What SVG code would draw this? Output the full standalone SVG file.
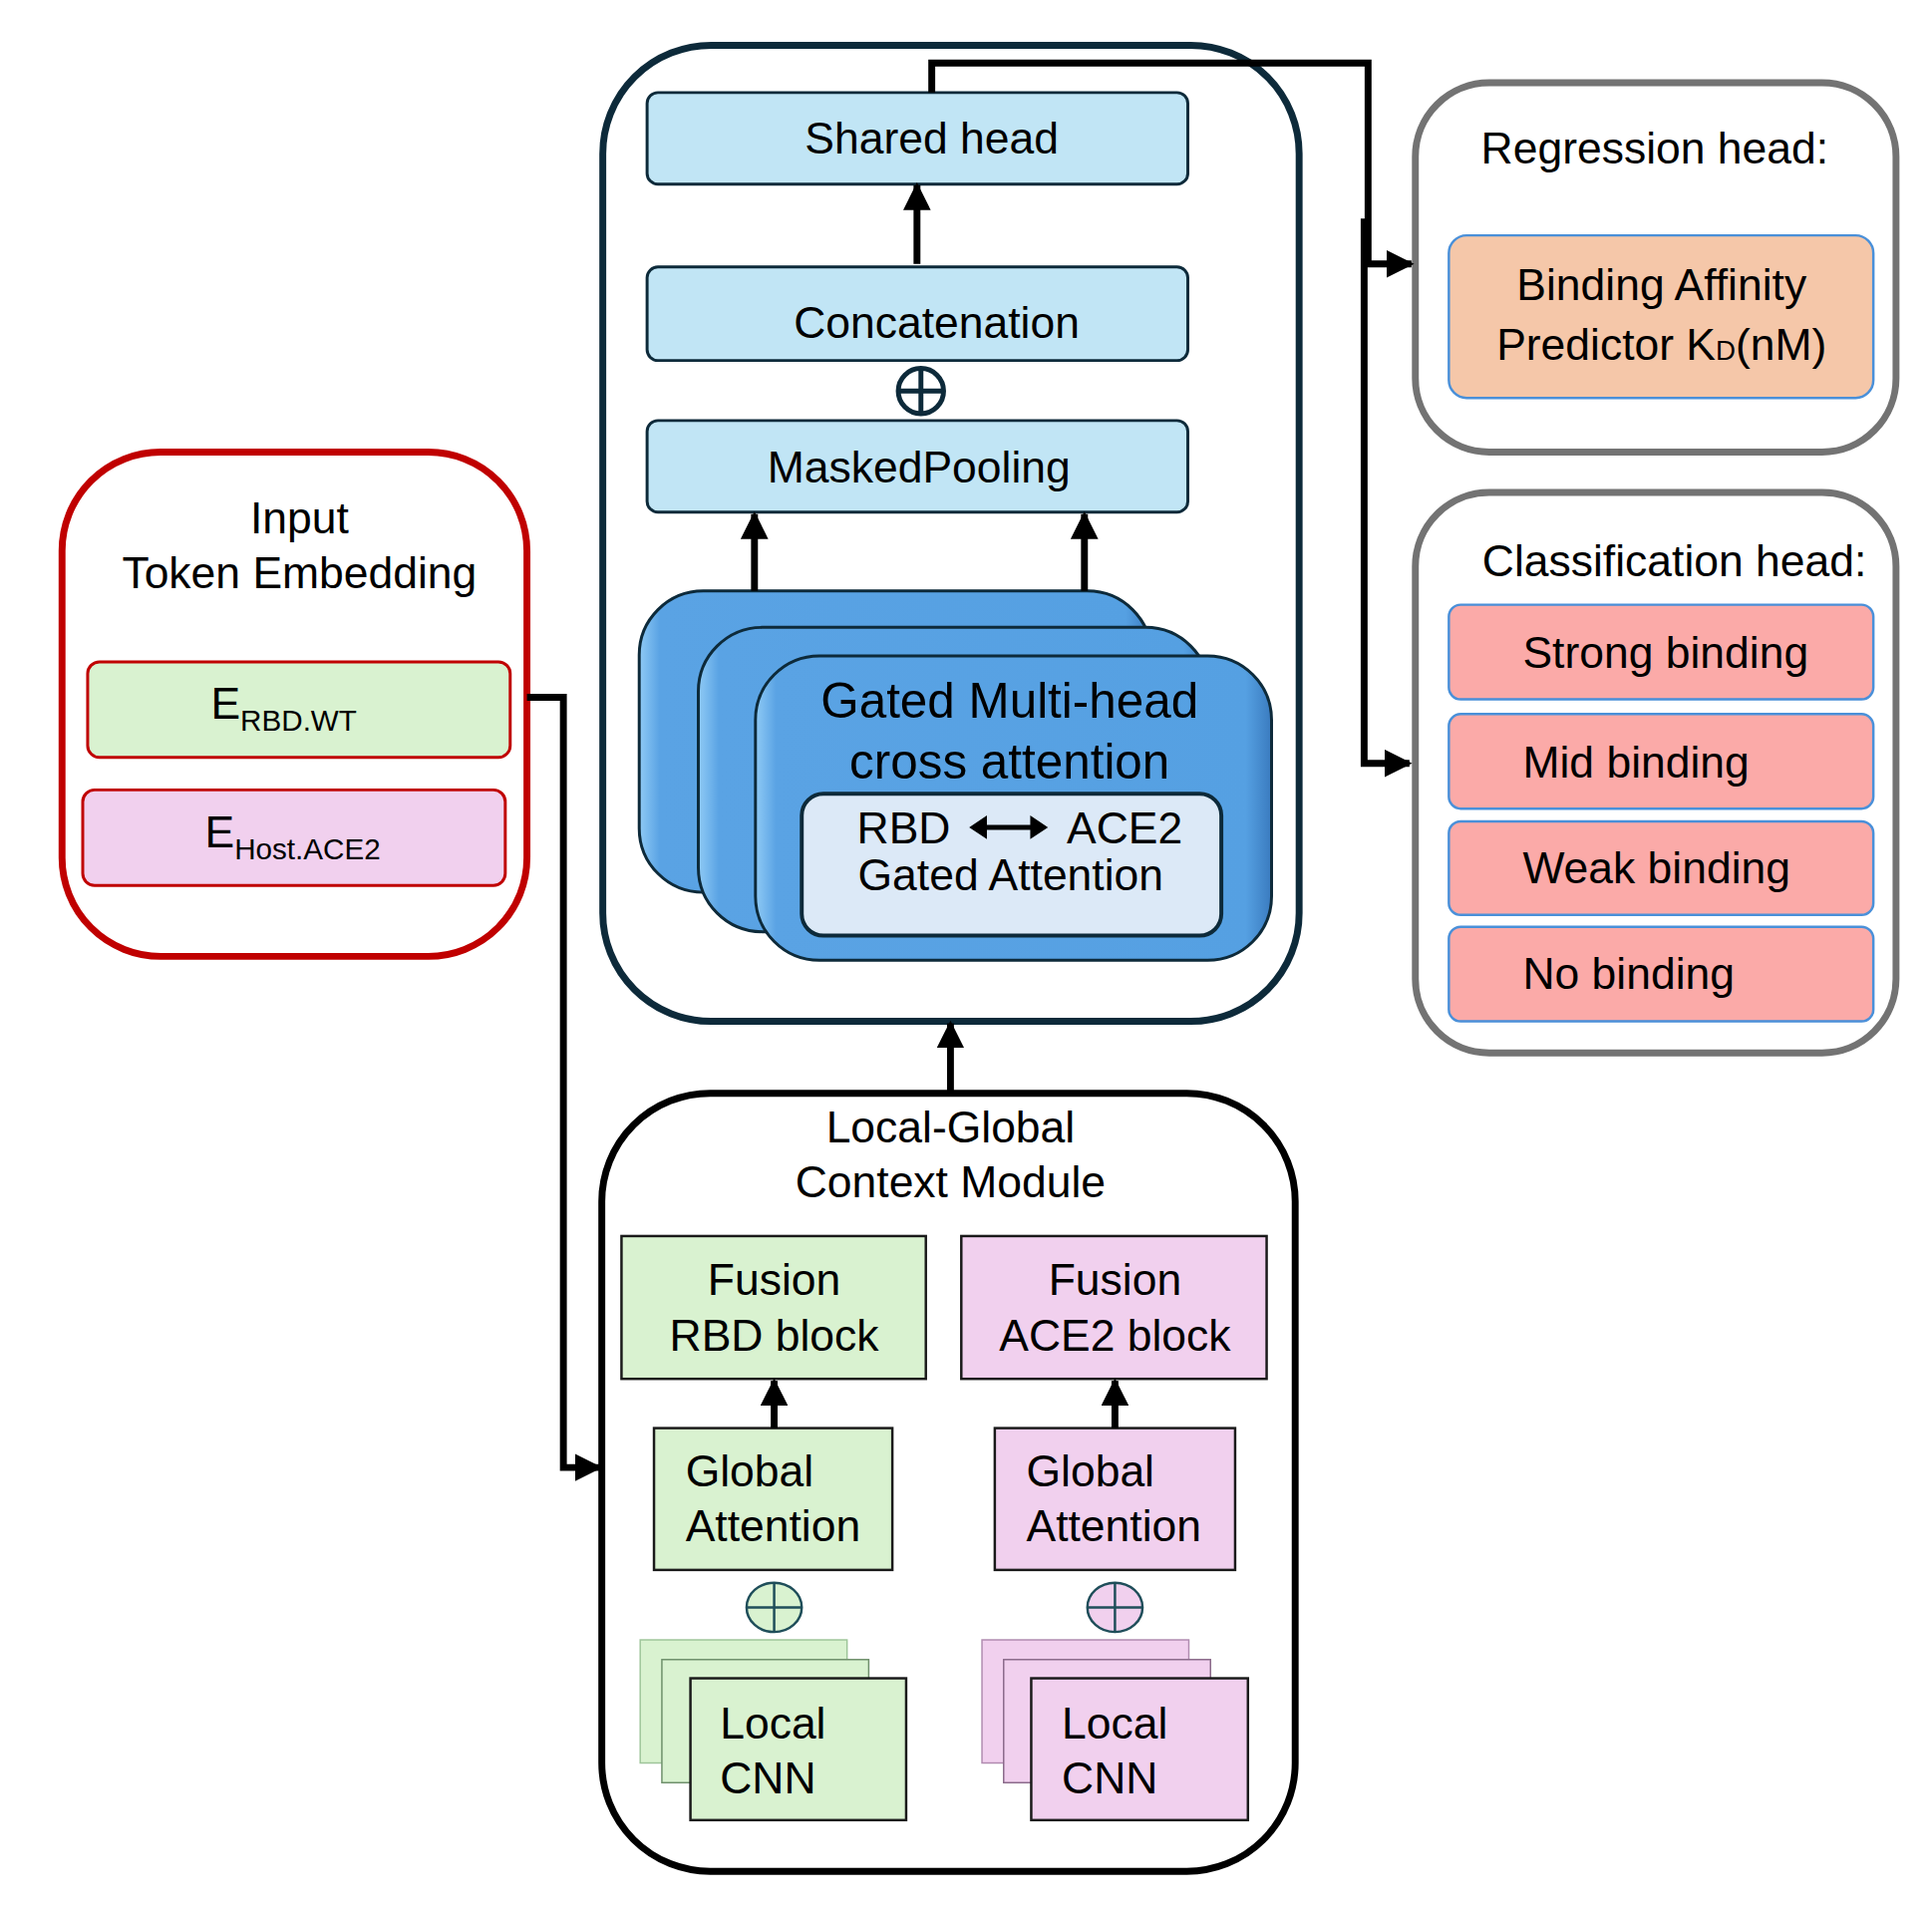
<svg xmlns="http://www.w3.org/2000/svg" width="1938" height="1916" viewBox="0 0 1938 1916">
<defs>
<style>
text{font-family:"Liberation Sans",Arial,sans-serif;fill:#000}
.t40{font-size:45px}
.t46{font-size:50px}
.c{text-anchor:middle}
.blue{fill:#c1e5f5;stroke:#0d2a3a;stroke-width:3}
.green{fill:#d9f2d0;stroke:#1a1a1a;stroke-width:2.5}
.pink{fill:#f1d0ee;stroke:#1a1a1a;stroke-width:2.5}
.card{fill:url(#cg);stroke:#0d2a3a;stroke-width:3}
.conn{fill:none;stroke:#000;stroke-width:7}
.cls{fill:#fbaaa8;stroke:#4a90d9;stroke-width:2.5}
</style>
<linearGradient id="cg" x1="0" y1="0" x2="1" y2="0">
<stop offset="0" stop-color="#8fcaf5"/><stop offset="0.04" stop-color="#5aa3e4"/><stop offset="0.95" stop-color="#55a0e2"/><stop offset="1" stop-color="#3a7bbf"/>
</linearGradient>
<marker id="ah" viewBox="0 0 10 10" refX="9" refY="5" markerWidth="4" markerHeight="4" orient="auto" markerUnits="strokeWidth">
<path d="M0,0 L10,5 L0,10 z" fill="#000"/>
</marker>
</defs>
<g transform="scale(0.988)">
<g id="input">
<rect x="63" y="459" width="472" height="512" rx="100" fill="#fff" stroke="#c00000" stroke-width="7"/>
<text class="t40 c" x="304" y="541">Input</text>
<text class="t40 c" x="304" y="597">Token Embedding</text>
<rect x="89" y="672" width="429" height="97" rx="12" fill="#d9f2d0" stroke="#c00000" stroke-width="3"/>
<text x="214" y="730" class="t40">E<tspan font-size="30" dy="12">RBD.WT</tspan></text>
<rect x="84" y="802" width="429" height="97" rx="12" fill="#f1d0ee" stroke="#c00000" stroke-width="3"/>
<text x="208" y="860" class="t40">E<tspan font-size="30" dy="12">Host.ACE2</tspan></text>
</g>

<g id="top-module">
<rect x="612" y="46" width="707" height="991" rx="110" fill="#fff" stroke="#0d2a3a" stroke-width="7"/>
<rect class="blue" x="657" y="94" width="549" height="93" rx="11"/>
<text class="t40 c" x="946" y="156">Shared head</text>
<rect class="blue" x="657" y="271" width="549" height="95" rx="11"/>
<text class="t40 c" x="951" y="343">Concatenation</text>
<circle cx="935" cy="397" r="23" fill="#fff" stroke="#0d2a3a" stroke-width="5"/>
<path d="M912,397 H958 M935,374 V420" stroke="#0d2a3a" stroke-width="5"/>
<rect class="blue" x="657" y="427" width="549" height="93" rx="11"/>
<text class="t40 c" x="933" y="490">MaskedPooling</text>
<rect class="card" x="649" y="600" width="520" height="306" rx="65"/>
<rect class="card" x="709" y="637" width="519" height="309" rx="65"/>
<rect class="card" x="767" y="666" width="524" height="309" rx="65"/>
<text class="t46 c" x="1025" y="729">Gated Multi-head</text>
<text class="t46 c" x="1025" y="790">cross attention</text>
<rect x="814" y="806" width="426" height="144" rx="22" fill="#dce9f7" stroke="#0d2a3a" stroke-width="4"/>
<text class="t40" x="870" y="856">RBD</text>
<text class="t40" x="1083" y="856">ACE2</text>
<path d="M992,840 H1048" stroke="#000" stroke-width="5"/>
<path d="M984,840 L1002,828 L1002,852 Z M1064,840 L1046,828 L1046,852 Z" fill="#000"/>
<text class="t40" x="871" y="904">Gated Attention</text>
</g>

<g id="local-global">
<rect x="611" y="1110" width="704" height="790" rx="110" fill="#fff" stroke="#000" stroke-width="7"/>
<text class="t40 c" x="965" y="1160">Local-Global</text>
<text class="t40 c" x="965" y="1216">Context Module</text>
<rect class="green" x="631" y="1255" width="309" height="145"/>
<text class="t40 c" x="786" y="1315">Fusion</text>
<text class="t40 c" x="786" y="1371">RBD block</text>
<rect class="pink" x="976" y="1255" width="310" height="145"/>
<text class="t40 c" x="1132" y="1315">Fusion</text>
<text class="t40 c" x="1132" y="1371">ACE2 block</text>
<rect class="green" x="664" y="1450" width="242" height="144"/>
<text class="t40" x="696" y="1509">Global</text>
<text class="t40" x="696" y="1565">Attention</text>
<rect class="pink" x="1010" y="1450" width="244" height="144"/>
<text class="t40" x="1042" y="1509">Global</text>
<text class="t40" x="1042" y="1565">Attention</text>
<ellipse cx="786" cy="1632" rx="28" ry="25" fill="#d9f2d0" stroke="#1f4e5a" stroke-width="2.5"/>
<path d="M758,1632 H814 M786,1607 V1657" stroke="#1f4e5a" stroke-width="2.5"/>
<ellipse cx="1132" cy="1632" rx="28" ry="25" fill="#f1d0ee" stroke="#1f4e5a" stroke-width="2.5"/>
<path d="M1104,1632 H1160 M1132,1607 V1657" stroke="#1f4e5a" stroke-width="2.5"/>
<rect x="650" y="1665" width="210" height="125" fill="#d9f2d0" stroke="#9ec59a" stroke-width="1.5"/>
<rect x="672" y="1685" width="210" height="125" fill="#d9f2d0" stroke="#6e8f6b" stroke-width="1.5"/>
<rect class="green" x="701" y="1704" width="219" height="144"/>
<text class="t40" x="731" y="1765">Local</text>
<text class="t40" x="731" y="1821">CNN</text>
<rect x="997" y="1665" width="210" height="125" fill="#f1d0ee" stroke="#b08bb0" stroke-width="1.5"/>
<rect x="1019" y="1685" width="210" height="125" fill="#f1d0ee" stroke="#8a6a8a" stroke-width="1.5"/>
<rect class="pink" x="1047" y="1704" width="220" height="144"/>
<text class="t40" x="1078" y="1765">Local</text>
<text class="t40" x="1078" y="1821">CNN</text>
</g>

<g id="regression">
<rect x="1437" y="84" width="488" height="375" rx="75" fill="#fff" stroke="#737373" stroke-width="7"/>
<text class="t40 c" x="1680" y="166">Regression head:</text>
<rect x="1471" y="239" width="431" height="165" rx="18" fill="#f5c7a9" stroke="#4a90d9" stroke-width="2.5"/>
<text class="t40 c" x="1687" y="305">Binding Affinity</text>
<text class="t40 c" x="1687" y="365">Predictor K<tspan font-size="28">D</tspan>(nM)</text>
</g>

<g id="classification">
<rect x="1437" y="500" width="488" height="569" rx="75" fill="#fff" stroke="#737373" stroke-width="7"/>
<text class="t40 c" x="1700" y="585">Classification head:</text>
<rect class="cls" x="1471" y="614" width="431" height="96" rx="12"/>
<text class="t40" x="1546" y="678">Strong binding</text>
<rect class="cls" x="1471" y="725" width="431" height="96" rx="12"/>
<text class="t40" x="1546" y="789">Mid binding</text>
<rect class="cls" x="1471" y="834" width="431" height="95" rx="12"/>
<text class="t40" x="1546" y="897">Weak binding</text>
<rect class="cls" x="1471" y="941" width="431" height="96" rx="12"/>
<text class="t40" x="1546" y="1004">No binding</text>
</g>

<g id="connectors">
<path class="conn" d="M931,268 V188" marker-end="url(#ah)"/>
<path class="conn" d="M766,600 V522" marker-end="url(#ah)"/>
<path class="conn" d="M1101,600 V522" marker-end="url(#ah)"/>
<path class="conn" d="M965,1110 V1039" marker-end="url(#ah)"/>
<path class="conn" d="M786,1450 V1402" marker-end="url(#ah)"/>
<path class="conn" d="M1132,1450 V1402" marker-end="url(#ah)"/>
<path class="conn" d="M535,708 H572 V1490 H609" marker-end="url(#ah)"/>
<path class="conn" d="M946,94 V64 H1389 V268 H1433" marker-end="url(#ah)"/>
<path class="conn" d="M1385,222 V775 H1431" marker-end="url(#ah)"/>
</g>
</g>
</svg>
